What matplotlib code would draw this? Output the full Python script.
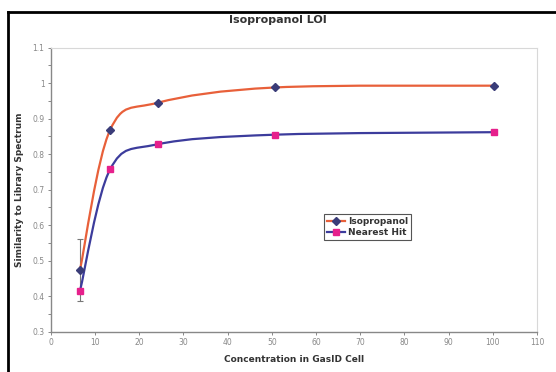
import numpy as np
import matplotlib
matplotlib.use('Agg')
import matplotlib.pyplot as plt
from matplotlib.path import Path
from matplotlib.patches import PathPatch
from matplotlib.lines import Line2D

# Values
conc = [6.6, 13.4, 24.2, 50.8, 100.3]
isopropanol = [0.474, 0.868, 0.945, 0.988, 0.993]
nearest_hit = [0.415, 0.757, 0.828, 0.855, 0.862]
iso_err = [0.088, 0, 0, 0, 0]

x_ticks = list(range(0, 111, 10))
y_ticks = [0.3, 0.4, 0.5, 0.6, 0.7, 0.8, 0.9, 1.0, 1.1]
y_labels = ['0.3', '0.4', '0.5', '0.6', '0.7', '0.8', '0.9', '1', '1.1']


# Excel style smoothed line: cubic Bezier segments with Catmull-Rom tangents
def smooth_path(xs, ys):
    pts = np.column_stack([xs, ys])
    n = len(pts)
    verts = [pts[0]]
    codes = [Path.MOVETO]
    for i in range(n - 1):
        p_prev = pts[i - 1] if i > 0 else pts[i]
        p_next2 = pts[i + 2] if i + 2 < n else pts[i + 1]
        c1 = pts[i] + (pts[i + 1] - p_prev) / 6.0
        c2 = pts[i + 1] - (p_next2 - pts[i]) / 6.0
        verts += [c1, c2, pts[i + 1]]
        codes += [Path.CURVE4] * 3
    return Path(verts, codes)


fig = plt.figure(figsize=(5.56, 3.72), dpi=100)
ax = fig.add_axes([0.0914, 0.1083, 0.8746, 0.7635])

iso_line = '#E8603A'
iso_mark = '#3A3C78'
hit_line = '#3C3C9C'
hit_mark = '#E6208C'

ax.add_patch(PathPatch(smooth_path(conc, isopropanol), fill=False,
                       edgecolor=iso_line, lw=1.6, zorder=2))
ax.add_patch(PathPatch(smooth_path(conc, nearest_hit), fill=False,
                       edgecolor=hit_line, lw=1.6, zorder=2))

ax.errorbar(conc, isopropanol, yerr=iso_err, fmt='none', ecolor='#777777',
            elinewidth=0.8, capsize=2.5, capthick=0.8, errorevery=(0, 5), zorder=1)

ax.plot(conc, isopropanol, linestyle='none', marker='D', ms=4.5,
        color=iso_mark, zorder=3)
ax.plot(conc, nearest_hit, linestyle='none', marker='s', ms=5,
        color=hit_mark, zorder=3)

handles = [
    Line2D([], [], color=iso_line, lw=1.6, marker='D', ms=4, mfc=iso_mark, mec=iso_mark),
    Line2D([], [], color=hit_line, lw=1.6, marker='s', ms=4.5, mfc=hit_mark, mec=hit_mark),
]
leg = ax.legend(handles, ['Isopropanol', 'Nearest Hit'],
                loc='upper left', bbox_to_anchor=(0.553, 0.43),
                fancybox=False, framealpha=1, edgecolor='#555555',
                borderpad=0.3, handlelength=2.0, handletextpad=0.3,
                labelspacing=0.25, prop={'size': 6.5, 'weight': 'bold'})
leg.get_frame().set_linewidth(0.8)
for t in leg.get_texts():
    t.set_color('#333333')

ax.set_xlim(0, 110)
ax.set_ylim(0.3, 1.1)
ax.set_xticks(x_ticks)
ax.set_yticks(y_ticks)
ax.set_yticklabels(y_labels)
ax.set_yticks(np.arange(0.35, 1.1, 0.1), minor=True)
ax.tick_params(axis='both', which='both', labelsize=5.5, labelcolor='#888888',
               color='#888888', length=2.5, width=0.7, direction='out', pad=2)

for side in ['top', 'right']:
    ax.spines[side].set_color('#d8d8d8')
    ax.spines[side].set_linewidth(0.8)
for side in ['left', 'bottom']:
    ax.spines[side].set_color('#888888')
    ax.spines[side].set_linewidth(1.0)

ax.set_xlabel('Concentration in GasID Cell', fontsize=6.5, fontweight='bold',
              color='#333333', labelpad=6)
ax.set_ylabel('Similarity to Library Spectrum', fontsize=6.5, fontweight='bold',
              color='#333333', labelpad=6)
fig.text(0.5, 0.945, 'Isopropanol LOI', ha='center', va='center',
         fontsize=8, fontweight='bold', color='#333333')

# black frame on the left and top edges
fig.add_artist(Line2D([0.0145, 0.0145], [0.0, 0.968], color='black', lw=2,
                      transform=fig.transFigure))
fig.add_artist(Line2D([0.0145, 1.0], [0.968, 0.968], color='black', lw=2,
                      transform=fig.transFigure))

fig.savefig('out.png', dpi=100)
